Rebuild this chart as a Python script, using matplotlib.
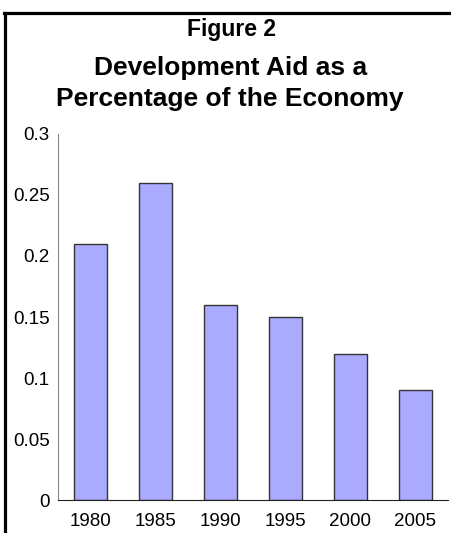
import matplotlib
matplotlib.use("Agg")
import matplotlib.pyplot as plt
from matplotlib.lines import Line2D

years = ["1980", "1985", "1990", "1995", "2000", "2005"]
aid_pct = [0.21, 0.26, 0.16, 0.15, 0.12, 0.09]
yticks = [0, 0.05, 0.1, 0.15, 0.2, 0.25, 0.3]
ytick_labels = ["0", "0.05", "0.1", "0.15", "0.2", "0.25", "0.3"]

plt.rcParams['font.family'] = ['Liberation Sans', 'DejaVu Sans']

fig = plt.figure(figsize=(4.52, 5.33), dpi=100)
ax = fig.add_axes([0.1283, 0.0619, 0.8627, 0.6867])

x = range(len(years))
ax.bar(x, aid_pct, width=0.5, color="#aaaaff", edgecolor="#333333", linewidth=1)

ax.set_xlim(-0.5, len(years) - 0.5)
ax.set_ylim(0, 0.3)
ax.set_xticks(list(x))
ax.set_xticklabels(years)
ax.set_yticks(yticks)
ax.set_yticklabels(ytick_labels)
ax.tick_params(axis="both", length=0, labelsize=13.5)
ax.tick_params(axis="x", pad=9)
ax.tick_params(axis="y", pad=6)

ax.spines["top"].set_visible(False)
ax.spines["right"].set_visible(False)
ax.spines["left"].set_color("#888888")
ax.spines["bottom"].set_color("#222222")

fig.text(0.512, 0.9325, "Figure 2", ha="center", va="baseline",
         fontsize=16.5, fontweight="bold")
fig.text(0.509, 0.8593, "Development Aid as a", ha="center", va="baseline",
         fontsize=19, fontweight="bold")
fig.text(0.509, 0.8011, "Percentage of the Economy", ha="center", va="baseline",
         fontsize=19, fontweight="bold")

# outer frame: top and left only
fig.add_artist(Line2D([0.009, 1.0], [0.9756, 0.9756], color="black", linewidth=2.3,
                      transform=fig.transFigure))
fig.add_artist(Line2D([0.011, 0.011], [0.0, 0.9756], color="black", linewidth=2.3,
                      transform=fig.transFigure))

fig.savefig("out.png", dpi=100)
